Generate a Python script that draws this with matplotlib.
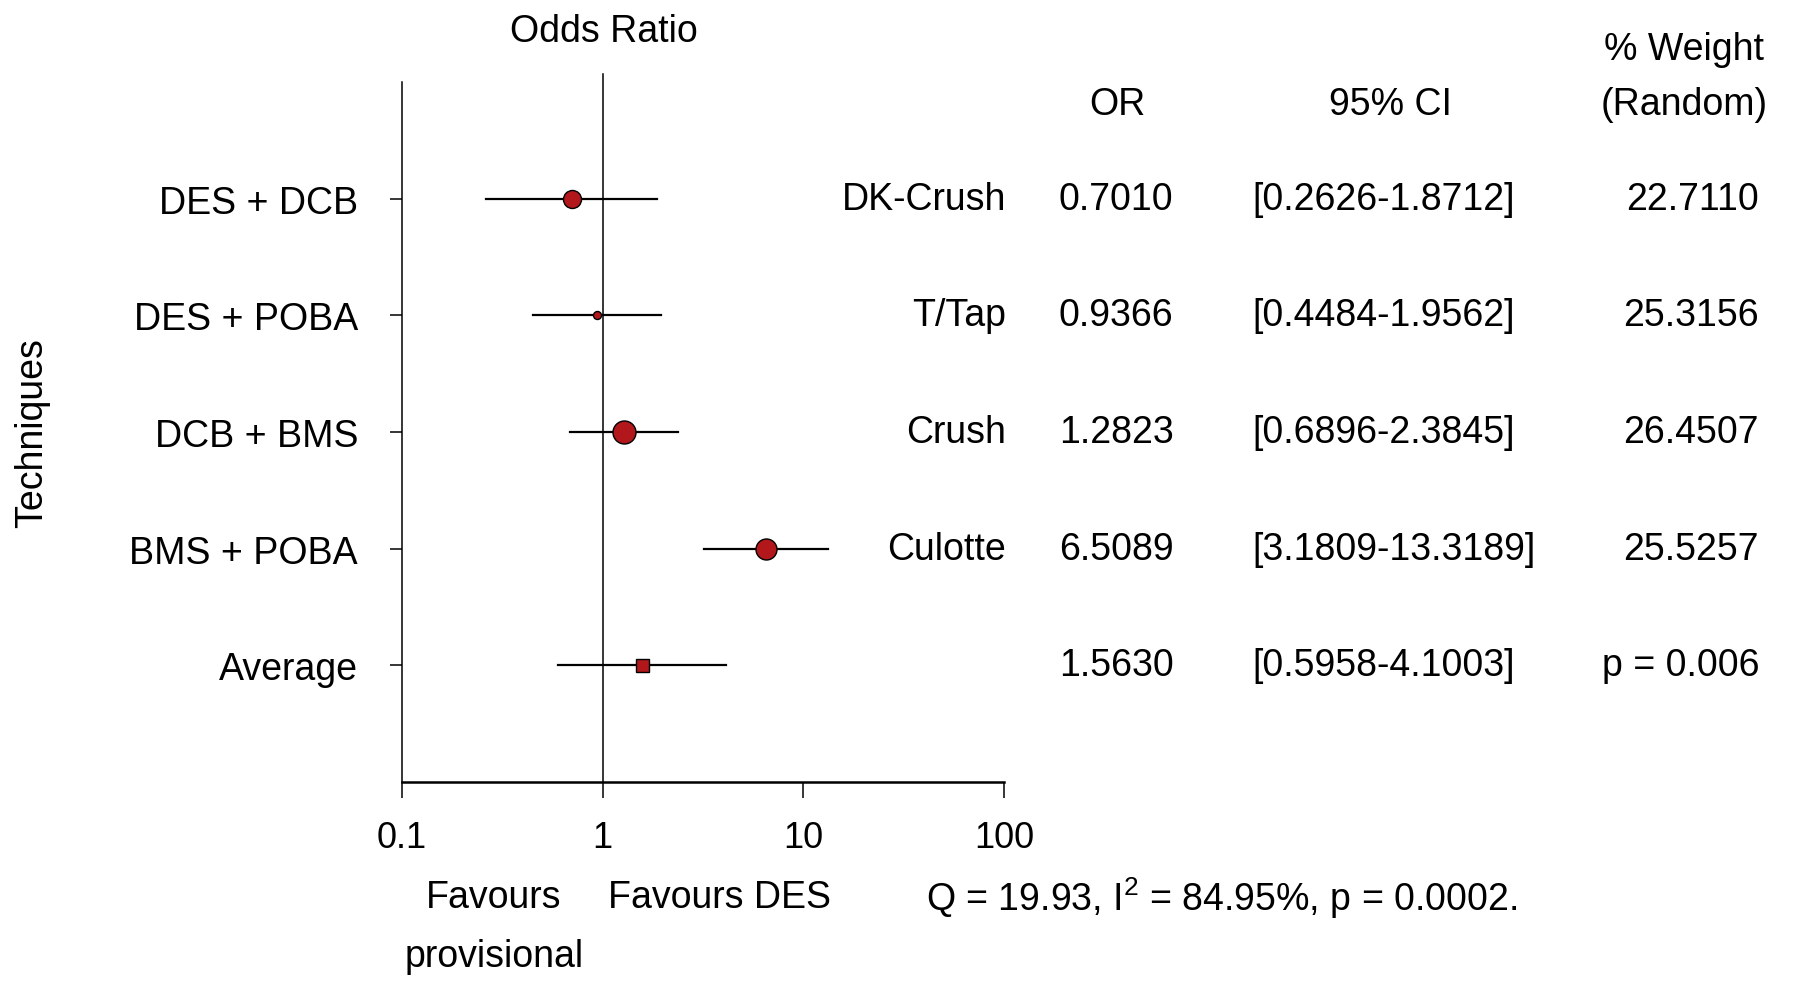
import matplotlib
matplotlib.use('Agg')
import matplotlib.pyplot as plt
from matplotlib.transforms import blended_transform_factory

# data
techniques = ['DES + DCB', 'DES + POBA', 'DCB + BMS', 'BMS + POBA', 'Average']
studies = ['DK-Crush', 'T/Tap', 'Crush', 'Culotte', '']
odds = [0.7010, 0.9366, 1.2823, 6.5089, 1.5630]
ci_low = [0.2626, 0.4484, 0.6896, 3.1809, 0.5958]
ci_high = [1.8712, 1.9562, 2.3845, 13.3189, 4.1003]
weights = ['22.7110', '25.3156', '26.4507', '25.5257', 'p = 0.006']
marker_px = [18, 8, 23, 21, 13]
x_ticks = [0.1, 1, 10, 100]
x_tick_labels = ['0.1', '1', '10', '100']

plt.rcParams['font.family'] = ['Liberation Sans', 'DejaVu Sans']
plt.rcParams['mathtext.fontset'] = 'custom'
plt.rcParams['mathtext.rm'] = 'Liberation Sans'
plt.rcParams['mathtext.it'] = 'Liberation Sans'

W, H = 1800, 987
fig = plt.figure(figsize=(W / 100, H / 100), dpi=100)
ax = fig.add_axes([402 / W, 1 - 783 / H, (1004 - 402) / W, (783 - 83) / H])

ax.set_xscale('log')
ax.set_xlim(0.1, 100)
ax.set_ylim(0, 6)

red = '#b2181b'
n = len(techniques)
ys = [n - i for i in range(n)]
for i in range(n):
    ax.plot([ci_low[i], ci_high[i]], [ys[i], ys[i]], color='black', lw=1.6, zorder=2)
    mk = 's' if techniques[i] == 'Average' else 'o'
    ax.plot(odds[i], ys[i], marker=mk, ms=marker_px[i] * 0.72,
            mfc=red, mec='black', mew=1.0, zorder=3)

ax.plot([1, 1], [0, 6.07], color='black', lw=1.1, clip_on=False, zorder=1)

ax.spines['top'].set_visible(False)
ax.spines['right'].set_visible(False)
ax.spines['left'].set_linewidth(1.1)
ax.spines['bottom'].set_linewidth(1.8)

ax.set_xticks(x_ticks)
ax.set_xticklabels(x_tick_labels, fontsize=26)
ax.xaxis.set_minor_locator(matplotlib.ticker.NullLocator())
ax.tick_params(axis='x', length=16 * 0.72, width=1.1, pad=16)
ax.set_yticks(ys)
ax.set_yticklabels(techniques, fontsize=27)
ax.tick_params(axis='y', length=12 * 0.72, width=1.1, pad=23)

fs = 27
fig.text(32 / W, 1 - 433 / H, 'Techniques', rotation=90, fontsize=fs,
         ha='center', va='center')
fig.text(604 / W, 1 - 32 / H, 'Odds Ratio', fontsize=fs, ha='center', va='center')

# table columns
tr = blended_transform_factory(fig.transFigure, ax.transData)
for i in range(n):
    y = ys[i]
    ax.text(1006 / W, y, studies[i], transform=tr, fontsize=fs, ha='right', va='center')
    ax.text(1116 / W, y, f'{odds[i]:.4f}', transform=tr, fontsize=fs, ha='center', va='center')
    ax.text(1252 / W, y, f'[{ci_low[i]:.4f}-{ci_high[i]:.4f}]', transform=tr,
            fontsize=fs, ha='left', va='center')
    ax.text(1759 / W, y, weights[i], transform=tr, fontsize=fs, ha='right', va='center')

fig.text(1117 / W, 1 - 105 / H, 'OR', fontsize=fs, ha='center', va='center')
fig.text(1390 / W, 1 - 105 / H, '95% CI', fontsize=fs, ha='center', va='center')
fig.text(1684 / W, 1 - 50 / H, '% Weight', fontsize=fs, ha='center', va='center')
fig.text(1684 / W, 1 - 105 / H, '(Random)', fontsize=fs, ha='center', va='center')

fig.text(494 / W, 1 - 898 / H, 'Favours', fontsize=fs, ha='center', va='center')
fig.text(494 / W, 1 - 957 / H, 'provisional', fontsize=fs, ha='center', va='center')
fig.text(720 / W, 1 - 898 / H, 'Favours DES', fontsize=fs, ha='center', va='center')
fig.text(1222 / W, 1 - 898 / H, r'Q = 19.93, I$^\mathrm{2}$ = 84.95%, p = 0.0002.',
         fontsize=fs, ha='center', va='center')

fig.savefig('out.png', dpi=100)
